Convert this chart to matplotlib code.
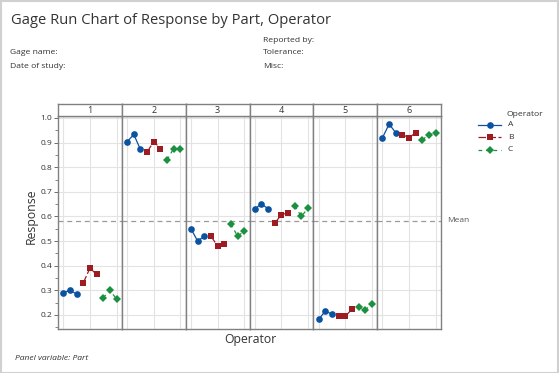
import numpy as np
import matplotlib.pyplot as plt
from matplotlib.patches import Rectangle
from matplotlib.lines import Line2D

plt.rcParams['font.family'] = ['Open Sans', 'DejaVu Sans']

# Data: response per part, operator, trial
parts = ['1', '2', '3', '4', '5', '6']
operators = ['A', 'B', 'C']
resp_A = [[0.29, 0.30, 0.285], [0.904, 0.933, 0.872], [0.55, 0.50, 0.52],
          [0.631, 0.651, 0.631], [0.182, 0.216, 0.203], [0.92, 0.975, 0.94]]
resp_B = [[0.33, 0.39, 0.365], [0.862, 0.904, 0.876], [0.52, 0.48, 0.49],
          [0.573, 0.607, 0.615], [0.195, 0.195, 0.223], [0.932, 0.92, 0.94]]
resp_C = [[0.27, 0.30, 0.265], [0.83, 0.876, 0.872], [0.57, 0.52, 0.54],
          [0.643, 0.60, 0.634], [0.234, 0.22, 0.245], [0.912, 0.932, 0.94]]
y_ticks = [0.2, 0.3, 0.4, 0.5, 0.6, 0.7, 0.8, 0.9, 1.0]

colors = {'A': '#0b52a0', 'B': '#9c1c22', 'C': '#1b9140'}
markers = {'A': 'o', 'B': 's', 'C': 'D'}
styles = {'A': '-', 'B': (0, (6, 2)), 'C': (0, (3, 3))}
data = {'A': resp_A, 'B': resp_B, 'C': resp_C}

mean_val = np.mean(resp_A + resp_B + resp_C)

W, H = 559, 373
fig = plt.figure(figsize=(W / 100, H / 100), dpi=100)
fig.patches.append(Rectangle((0.5 / W, 0.5 / H), 1 - 1.5 / W, 1 - 1.5 / H,
                             transform=fig.transFigure, fill=False,
                             edgecolor='#d0d0d0', lw=1.5))

def fx(px):
    return px / W

def fy(py):
    return 1 - py / H

left, right, top, bottom, strip_top = 58, 441, 116, 329, 104
pw = (right - left) / len(parts)
frame_col = '#808080'

for i, part in enumerate(parts):
    x0 = left + i * pw
    ax = fig.add_axes([fx(x0), fy(bottom), pw / W, (bottom - top) / H])
    pos = 1
    for op in operators:
        xs = np.arange(pos, pos + 3)
        ax.plot(xs, data[op][i], color=colors[op], linestyle=styles[op], lw=0.9,
                marker=markers[op], markersize=4.8 if op != 'C' else 4.4,
                markeredgewidth=0, zorder=3)
        pos += 3
    ax.axhline(mean_val, color='#9a9a9a', lw=0.9, ls=(0, (4, 3)), zorder=2)
    ax.set_xlim(0.2, 9.8)
    ax.set_ylim(0.143, 1.008)
    ax.set_yticks(y_ticks)
    ax.set_yticks(np.arange(0.15, 1.01, 0.05), minor=True)
    ax.set_xticks([1, 5, 9])
    ax.grid(True, color='#e3e3e3', lw=0.8, zorder=0)
    ax.tick_params(axis='x', length=0, labelbottom=False)
    for s in ax.spines.values():
        s.set_color(frame_col)
        s.set_linewidth(1.0)
    if i == 0:
        ax.set_yticklabels([f'{t:.1f}' for t in y_ticks], fontsize=6, color='#333333')
        ax.tick_params(axis='y', which='major', length=3, width=0.6, color='#555555', pad=1)
        ax.tick_params(axis='y', which='minor', length=2, width=0.5, color='#555555')
    else:
        ax.tick_params(axis='y', which='both', length=0, labelleft=False)

    # strip header
    sax = fig.add_axes([fx(x0), fy(top), pw / W, (top - strip_top) / H])
    sax.set_xticks([])
    sax.set_yticks([])
    for s in sax.spines.values():
        s.set_color(frame_col)
        s.set_linewidth(1.0)
    sax.text(0.5, 0.45, part, ha='center', va='center', fontsize=6.5, color='#333333',
             transform=sax.transAxes)

# titles and header text
fig.text(fx(11), fy(20), 'Gage Run Chart of Response by Part, Operator', fontsize=10.6,
         color='#333333', va='center', ha='left')
hdr = dict(fontsize=6.1, color='#333333', va='center', ha='left')
fig.text(fx(10), fy(53), 'Gage name:', **hdr)
fig.text(fx(10), fy(66), 'Date of study:', **hdr)
fig.text(fx(263), fy(41), 'Reported by:', **hdr)
fig.text(fx(263), fy(53), 'Tolerance:', **hdr)
fig.text(fx(263), fy(66), 'Misc:', **hdr)

fig.text(fx(31), fy(216), 'Response', rotation=90, fontsize=8.8, color='#333333',
         ha='center', va='center')
fig.text(fx(250), fy(339), 'Operator', fontsize=8.8, color='#333333', ha='center', va='center')
fig.text(fx(15), fy(359), 'Panel variable: Part', fontsize=6.1, style='italic',
         color='#333333', va='center', ha='left')
fig.text(fx(447), fy(221), 'Mean', fontsize=6, color='#555555', va='center', ha='left')

# legend
fig.text(fx(507), fy(114), 'Operator', fontsize=6.1, color='#333333', va='center', ha='left')
for k, op in enumerate(operators):
    yy = fy(125 + k * 12.3)
    fig.add_artist(Line2D([fx(478), fx(501)], [yy, yy], color=colors[op],
                          linestyle=styles[op], lw=0.9, transform=fig.transFigure))
    fig.add_artist(Line2D([fx(489.5)], [yy], color=colors[op], marker=markers[op],
                          markersize=4.8 if op != 'C' else 4.4, markeredgewidth=0,
                          transform=fig.transFigure))
    fig.text(fx(508), yy, op, fontsize=6.1, color='#333333', va='center', ha='left')

fig.savefig('out.png', dpi=100)
